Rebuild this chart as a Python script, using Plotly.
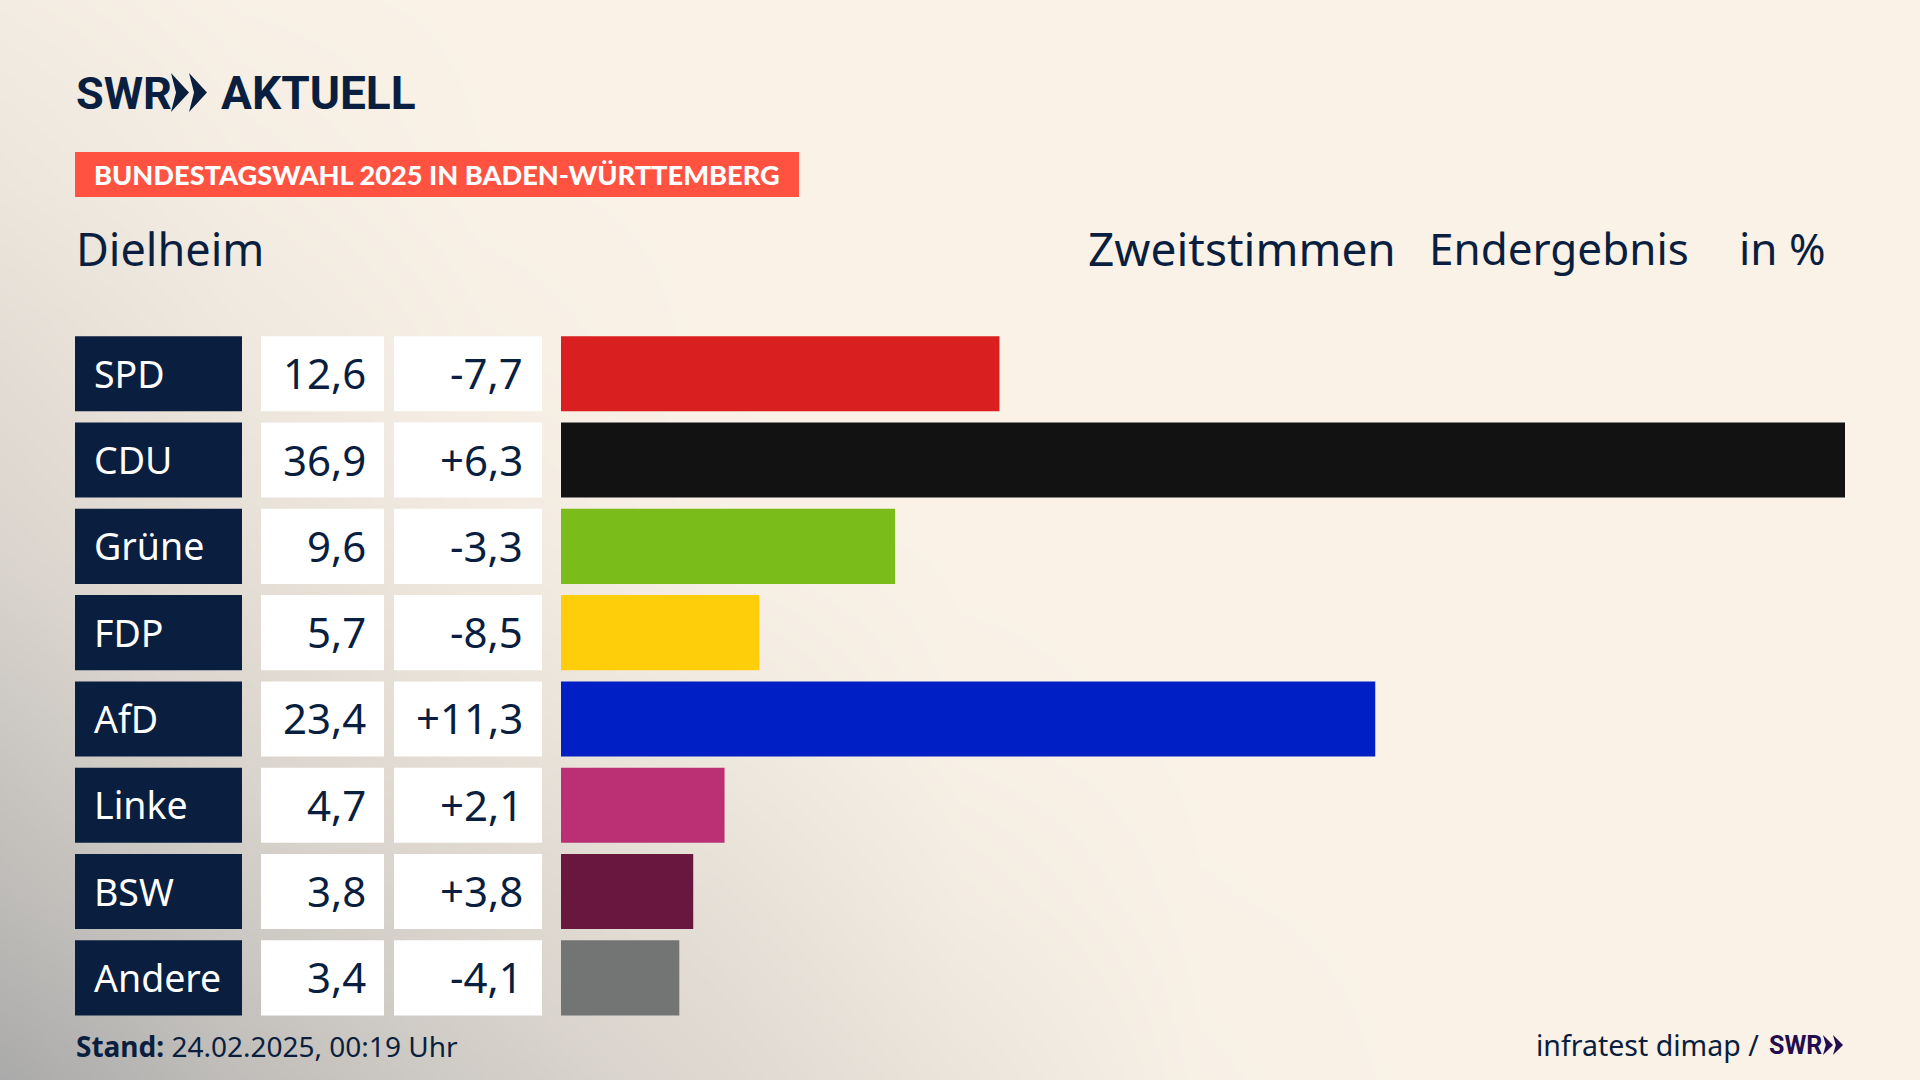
import plotly.graph_objects as go

# Data
parteien = ['SPD', 'CDU', 'Grüne', 'FDP', 'AfD', 'Linke', 'BSW', 'Andere']
anteil = [12.6, 36.9, 9.6, 5.7, 23.4, 4.7, 3.8, 3.4]
differenz = ['-7,7', '+6,3', '-3,3', '-8,5', '+11,3', '+2,1', '+3,8', '-4,1']
farben = ['#d91f1f', '#121212', '#7abd1a', '#ffce0a', '#0020c6', '#bb3074', '#6a173f', '#737474']

W, H = 1920, 1080
NAVY = '#0a1f3f'
FONT = 'Noto Sans'
LOGO_FONT = 'Roboto'

# Background shading, darkest in the lower left corner
bg_x = [0, 240, 480, 720, 960, 1200, 1440, 1680, 1920]
bg_y = [0, 180, 360, 540, 720, 900, 1080]
bg_z = [
    [.1, .02, 0, 0, 0, 0, 0, 0, 0],
    [.2, .08, .01, 0, 0, 0, 0, 0, 0],
    [.35, .17, .05, 0, 0, 0, 0, 0, 0],
    [.47, .3, .13, .03, 0, 0, 0, 0, 0],
    [.63, .45, .27, .15, .02, 0, 0, 0, 0],
    [.78, .6, .45, .3, .1, .01, 0, 0, 0],
    [.98, .75, .58, .42, .22, .03, 0, 0, 0],
]


def px(x):
    return x / W


def py(y):
    return 1 - y / H


def chevrons(x, top, bottom, w, gap, color):
    mid = (top + bottom) / 2
    thick = w * 0.72
    path = ''
    for x0 in (x, x + gap):
        pts = [(x0, top), (x0 + w, mid), (x0, bottom), (x0 + w - thick, mid)]
        path += 'M' + ' L'.join(f'{px(a):.5f},{py(b):.5f}' for a, b in pts) + ' Z '
    return dict(type='path', xref='paper', yref='paper', path=path, fillcolor=color, line_width=0, layer='above')


def text(x, y, s, size, color=NAVY, anchor='left', weight=None, family=FONT):
    return dict(x=px(x), y=py(y), xref='paper', yref='paper', text=s, showarrow=False, xanchor=anchor, yanchor='middle',
                font=dict(family=family, size=size, color=color, weight=weight), borderpad=0)


fig = go.Figure()
fig.add_trace(go.Heatmap(x=bg_x, y=bg_y, z=bg_z, zmin=0, zmax=1, zsmooth='best', showscale=False, hoverinfo='skip',
                         colorscale=[[0, '#faf2e7'], [.5, '#d8d3cc'], [1, '#a8a8a8']], xaxis='x', yaxis='y'))
fig.add_trace(go.Bar(y=parteien, x=anteil, orientation='h', marker=dict(color=farben, line_width=0),
                     xaxis='x2', yaxis='y2', hoverinfo='skip'))

shapes = []
annotations = []

# Table cells next to the bars
for i, p in enumerate(parteien):
    for x0, x1, col in [(75, 242, NAVY), (261, 384, 'white'), (394, 542, 'white')]:
        shapes.append(dict(type='rect', xref='paper', yref='y2', x0=px(x0), x1=px(x1), y0=i - .435, y1=i + .435,
                           fillcolor=col, line_width=0, layer='above'))
    annotations.append(dict(x=px(92), y=p, xref='paper', yref='y2', text=p, showarrow=False, xanchor='left', yshift=.5,
                            font=dict(family=FONT, size=37.5, color='white')))
    annotations.append(dict(x=px(367.5), y=p, xref='paper', yref='y2', text=f'{anteil[i]:.1f}'.replace('.', ','),
                            showarrow=False, xanchor='right', yshift=1, font=dict(family=FONT, size=42, color=NAVY)))
    annotations.append(dict(x=px(525), y=p, xref='paper', yref='y2', text=differenz[i], showarrow=False,
                            xanchor='right', yshift=1, font=dict(family=FONT, size=42, color=NAVY)))

# Header
shapes.append(dict(type='rect', xref='paper', yref='paper', x0=px(75), x1=px(799), y0=py(197), y1=py(152),
                   fillcolor='#ff5240', line_width=0, layer='above'))
shapes.append(chevrons(171, 73, 112, 18, 18, NAVY))
annotations += [
    text(75, 93, 'SWR', 45, weight=700, family=LOGO_FONT),
    text(220, 93, 'AKTUELL', 46, weight=700, family=LOGO_FONT),
    text(93, 175, 'BUNDESTAGSWAHL 2025 IN BADEN-WÜRTTEMBERG', 27.2, color='white', weight=900, family='Lato'),
    text(75, 248, 'Dielheim', 45),
    text(1087, 248, 'Zweitstimmen', 46),
    text(1428, 248, 'Endergebnis', 44),
    text(1738, 248, 'in %', 44),
]

# Footer
shapes.append(chevrons(1823, 1035, 1055, 10, 10, '#230d4e'))
annotations += [
    text(75, 1046, '<b>Stand:</b> 24.02.2025, 00:19 Uhr', 28),
    text(1760, 1045, 'infratest dimap /', 28.5, anchor='right'),
    text(1768, 1045, 'SWR', 25, color='#230d4e', weight=700, family=LOGO_FONT),
]

fig.update_layout(
    width=W, height=H, margin=dict(l=0, r=0, t=0, b=0), showlegend=False, bargap=.13,
    paper_bgcolor='#faf2e7', plot_bgcolor='rgba(0,0,0,0)',
    xaxis=dict(domain=[0, 1], range=[0, W], visible=False, fixedrange=True),
    yaxis=dict(domain=[0, 1], range=[H, 0], visible=False, fixedrange=True),
    xaxis2=dict(domain=[px(561), px(1845)], range=[0, 36.9], visible=False, anchor='y2', fixedrange=True),
    yaxis2=dict(domain=[py(1021), py(330.6)], type='category', categoryorder='array', categoryarray=parteien,
                range=[7.5, -.5], visible=False, anchor='x2', fixedrange=True),
    shapes=shapes, annotations=annotations,
)

fig.write_html("out.html", config={'displayModeBar': False},
               post_script="document.body.style.margin='0';document.body.style.overflow='hidden';")
